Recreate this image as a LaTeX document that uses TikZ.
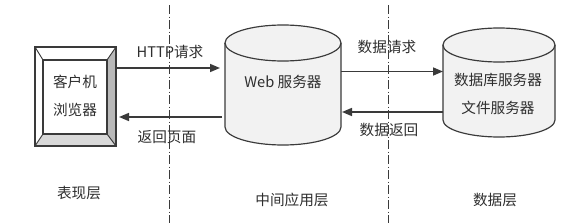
\documentclass[tikz,border=0pt]{standalone}
\usepackage{fontspec}
\newfontfamily\cjk{Noto Sans CJK SC}
\usepackage{xcolor}
\definecolor{lineaGris}{HTML}{3A3A3A}
\definecolor{textoGris}{HTML}{2E2E2E}
\usepackage{tikz}
\usetikzlibrary{arrows.meta,positioning,calc}

\begin{document}
\begin{tikzpicture}[x=1cm,y=1cm,font=\cjk\fontsize{12.5}{24}\selectfont,
    text=textoGris,
    caja/.style={minimum width=#1,inner sep=0pt,outer sep=0pt},
    flujo/.style={-{Triangle[length=3mm,width=2.4mm]},line width=1.3pt,lineaGris},
    capa/.style={lineaGris,line width=0.7pt,
        dash pattern=on 2.8mm off 0.7mm on 0.3mm off 0.7mm},
    cilindro/.style={fill=gray!10,draw=lineaGris,line width=1pt}]

\useasboundingbox (0,0) rectangle (17.25,6.69);

% Capas
\draw[capa] (5.07,6.54) -- (5.07,0);
\draw[capa] (11.64,6.54) -- (11.64,0);

% Cliente
\node[caja=2.43cm,minimum height=2.97cm] (client) at (2.265,3.795) {};
\coordinate (cNW) at ([shift={(0.24,-0.39)}]client.north west);
\coordinate (cNE) at ([shift={(-0.27,-0.39)}]client.north east);
\coordinate (cSW) at ([shift={(0.24,0.36)}]client.south west);
\coordinate (cSE) at ([shift={(-0.27,0.36)}]client.south east);

\fill[gray!55] (client.north east) -- (client.south east)
    -- (cSE) -- (cNE) -- cycle;
\fill[gray!30] (client.south west) -- (client.south east)
    -- (cSE) -- (cSW) -- cycle;
\draw[lineaGris,line width=1pt] (client.north west) rectangle (client.south east);
\draw[lineaGris,line width=1pt] (cNW) rectangle (cSE);
\draw[lineaGris,line width=0.8pt]
    (client.north west) -- (cNW)
    (client.north east) -- (cNE)
    (client.south west) -- (cSW)
    (client.south east) -- (cSE);

\node[align=center] (clientTxt) at (2.25,3.81) {客户机\\浏览器};

% Servidor web
\node[caja=3.48cm,minimum height=3.6cm] (web) at (8.49,4.14) {};
\draw[cilindro]
    ([yshift=-0.54cm]web.north west) -- ([yshift=0.54cm]web.south west)
    arc[start angle=180,end angle=360,x radius=1.74cm,y radius=0.54cm]
    -- ([yshift=-0.54cm]web.north east)
    arc[start angle=0,end angle=180,x radius=1.74cm,y radius=0.54cm]
    -- cycle;
\draw[lineaGris,line width=1pt] ([yshift=-0.54cm]web.north west)
    arc[start angle=180,end angle=360,x radius=1.74cm,y radius=0.54cm];

\node (webTxt) at (8.49,4.23) {Web 服务器};

% Base de datos
\node[caja=3.36cm,minimum height=3.27cm] (db) at (14.97,4.215) {};
\draw[cilindro]
    ([yshift=-0.51cm]db.north west) -- ([yshift=0.51cm]db.south west)
    arc[start angle=180,end angle=360,x radius=1.68cm,y radius=0.51cm]
    -- ([yshift=-0.51cm]db.north east)
    arc[start angle=0,end angle=180,x radius=1.68cm,y radius=0.51cm]
    -- cycle;
\draw[lineaGris,line width=1pt] ([yshift=-0.51cm]db.north west)
    arc[start angle=180,end angle=360,x radius=1.68cm,y radius=0.51cm];

\node[align=center] (dbTxt) at (14.94,3.87) {数据库服务器\\文件服务器};

% Flechas
\draw[flujo] ([yshift=0.855cm]client.east)
    -- ([yshift=0.855cm,xshift=-0.15cm]client.east -| web.west);
\draw[flujo] ([yshift=-0.96cm,xshift=-0.09cm]web.west)
    -- ([yshift=-0.96cm,xshift=0.09cm]web.west -| client.east);
\draw[flujo] ([yshift=0.405cm]web.east)
    -- ([yshift=0.405cm]web.east -| db.west);
\draw[flujo] ([yshift=-0.885cm]db.west)
    -- ([yshift=-0.885cm,xshift=0.03cm]db.west -| web.east);

\node (httpTxt) at (5.1,5.13) {HTTP请求};
\node (pagTxt) at (5.01,2.58) {返回页面};
\node (reqTxt) at (11.61,5.28) {数据请求};
\node (retTxt) at (11.67,2.79) {数据返回};

% Etiquetas de capa
\node (capa1) at (2.37,0.9) {表现层};
\node (capa2) at (8.76,0.69) {中间应用层};
\node (capa3) at (14.85,0.69) {数据层};

\end{tikzpicture}
\end{document}
